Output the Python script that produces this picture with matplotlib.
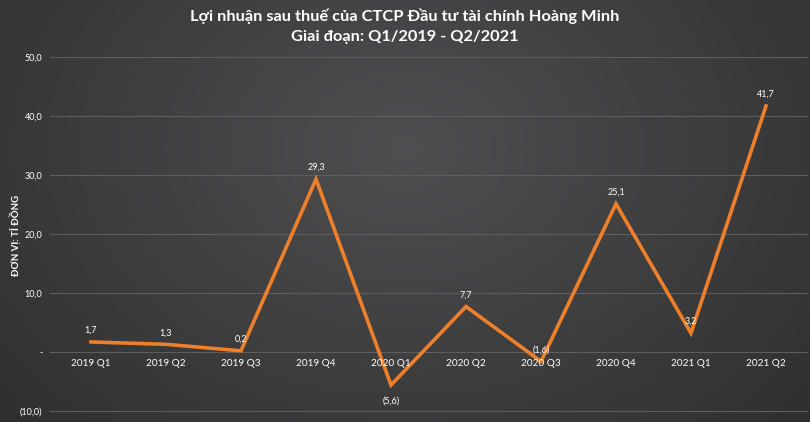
import numpy as np
import matplotlib
matplotlib.use("Agg")
import matplotlib.pyplot as plt

categories = ["2019 Q1", "2019 Q2", "2019 Q3", "2019 Q4", "2020 Q1",
              "2020 Q2", "2020 Q3", "2020 Q4", "2021 Q1", "2021 Q2"]
profit = [1.7, 1.3, 0.2, 29.3, -5.6, 7.7, -1.6, 25.1, 3.2, 41.7]
ytick_vals = [-10, 0, 10, 20, 30, 40, 50]
ytick_labels = ["(10,0)", "-", "10,0", "20,0", "30,0", "40,0", "50,0"]

plt.rcParams['font.family'] = ['Lato', 'DejaVu Sans']

W, H = 810, 422
fig = plt.figure(figsize=(W / 100, H / 100), dpi=100)

# background radial-ish gradient
bg = fig.add_axes([0, 0, 1, 1], zorder=-10)
yy, xx = np.mgrid[0:1:200j, 0:1:400j]
d = np.sqrt(((xx - 0.5) / 0.75) ** 2 + ((yy - 0.35) / 1.1) ** 2)
val = 0.31 - 0.14 * np.clip(d, 0, 1.2)
img = np.dstack([val, val, val * 1.02])
bg.imshow(np.clip(img, 0, 1), aspect='auto', extent=[0, 1, 0, 1])
bg.axis('off')

ax = fig.add_axes([53.5 / W, 1 - 416 / H, 750 / W, (416 - 52) / H])
ax.set_facecolor('none')
x = np.arange(len(categories))
ax.plot(x, profit, color='#F07F2A', lw=2.6, solid_joinstyle='miter', zorder=3)
ax.set_xlim(-0.5, len(categories) - 0.5)
ax.set_ylim(-10.85, 50.85)

for yv in ytick_vals:
    ax.plot([-0.55, len(categories) - 0.45], [yv, yv], color='#5d5d5d', lw=0.8,
            zorder=1, clip_on=False)

ax.set_yticks(ytick_vals)
ax.set_yticklabels(ytick_labels)
ax.set_xticks([])
for s in ax.spines.values():
    s.set_visible(False)
ax.tick_params(axis='y', length=0, colors='white', labelsize=6.5, pad=8)

for xi, c in zip(x, categories):
    ax.text(xi, -2.0, c, color='white', ha='center', va='center', fontsize=7.2)

for xi, v in zip(x, profit):
    lab = f"{abs(v):.1f}".replace('.', ',')
    if v < -3:
        ax.text(xi, v - 2.7, f"({lab})", color='white', ha='center', va='center',
                fontsize=6.5, zorder=4)
    elif v < 0:
        ax.text(xi, v + 1.2, f"({lab})", color='white', ha='center', va='bottom',
                fontsize=6.5, zorder=4)
    else:
        ax.text(xi, v + 1.2, lab, color='white', ha='center', va='bottom',
                fontsize=6.5, zorder=4)

fig.text(15 / W, 1 - 235 / H, "ĐƠN VỊ: TỈ ĐỒNG", rotation=90, color='white',
         ha='center', va='center', fontsize=7, fontweight='bold')
fig.text(0.5, 1 - 16 / H, "Lợi nhuận sau thuế của CTCP Đầu tư tài chính Hoàng Minh",
         color='white', ha='center', va='center', fontsize=11.8, fontweight='bold')
fig.text(0.5, 1 - 37 / H, "Giai đoạn: Q1/2019 - Q2/2021",
         color='white', ha='center', va='center', fontsize=11.8, fontweight='bold')

fig.savefig("out.png", dpi=100)
